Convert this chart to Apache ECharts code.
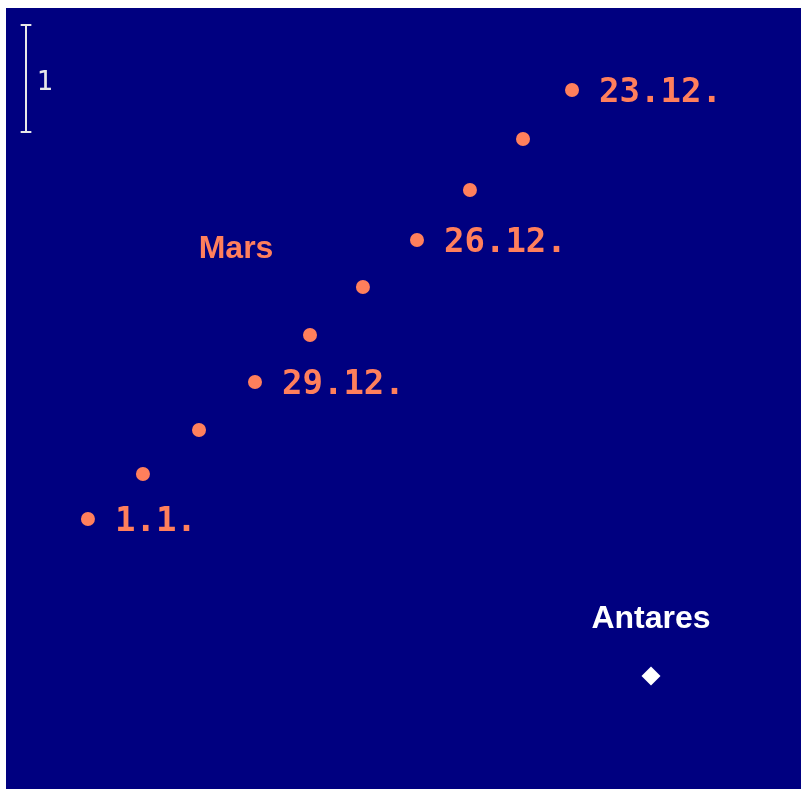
<!DOCTYPE html>
<html>
<head>
<meta charset="utf-8">
<script src="https://cdn.jsdelivr.net/npm/echarts@6/dist/echarts.min.js"></script>
<style>html,body{margin:0;padding:0;background:#fff}#c{width:801px;height:789px}</style>
</head>
<body>
<div id="c"></div>
<script>
// Units: 1 = length of the scale bar
const marsX = [0.766, 1.280, 1.804, 2.327, 2.841, 3.336, 3.841, 4.336, 4.832, 5.290];
const marsY = [2.523, 2.944, 3.355, 3.804, 4.243, 4.692, 5.131, 5.598, 6.075, 6.533];
const marsDates = ['1.1.', '', '', '29.12.', '', '', '26.12.', '', '', '23.12.'];
const marsName = 'Mars';
const marsNamePos = [2.150, 5.046];
const starName = 'Antares';
const starPos = [6.028, 1.056];
const starNamePos = [6.028, 1.588];
const scaleX = 0.187, scaleY0 = 6.140, scaleY1 = 7.140, scaleCap = 0.05;
const scaleLabel = '1';
const scaleLabelPos = [0.360, 6.600];

const coral = '#ff7f5c';
const chart = echarts.init(document.getElementById('c'));
chart.setOption({
  backgroundColor: '#ffffff',
  animation: false,
  grid: { left: 6, top: 8, right: 0, bottom: 0, show: true, backgroundColor: '#000080', borderWidth: 0 },
  xAxis: { type: 'value', min: 0, max: 795 / 107, show: false },
  yAxis: { type: 'value', min: 0, max: 781 / 107, show: false },
  series: [
    {
      type: 'scatter', symbol: 'circle', symbolSize: 14,
      itemStyle: { color: coral, opacity: 1 },
      data: marsX.map((x, i) => ({ value: [x, marsY[i]], label: { show: !!marsDates[i], formatter: marsDates[i] } })),
      label: { position: 'right', distance: 20, color: coral, opacity: 1, fontFamily: 'DejaVu Sans Mono', fontWeight: 'bold', fontSize: 34, offset: [0, 3] }
    },
    {
      type: 'scatter', symbol: 'circle', symbolSize: 0, silent: true,
      itemStyle: { opacity: 1 },
      data: [{ value: marsNamePos, label: { show: true, formatter: marsName, position: 'inside', color: coral, opacity: 1, fontFamily: 'Liberation Sans', fontWeight: 'bold', fontSize: 32 } }]
    },
    {
      type: 'scatter', symbol: 'diamond', symbolSize: 19,
      itemStyle: { color: '#ffffff', opacity: 1 },
      data: [starPos]
    },
    {
      type: 'scatter', symbol: 'circle', symbolSize: 0, silent: true,
      itemStyle: { opacity: 1 },
      data: [{ value: starNamePos, label: { show: true, formatter: starName, position: 'inside', color: '#ffffff', opacity: 1, fontFamily: 'Liberation Sans', fontWeight: 'bold', fontSize: 32 } }]
    },
    {
      type: 'lines', coordinateSystem: 'cartesian2d', silent: true,
      lineStyle: { color: '#e8e8e8', width: 2, opacity: 1 },
      data: [
        { coords: [[scaleX, scaleY0], [scaleX, scaleY1]] },
        { coords: [[scaleX - scaleCap, scaleY0], [scaleX + scaleCap, scaleY0]] },
        { coords: [[scaleX - scaleCap, scaleY1], [scaleX + scaleCap, scaleY1]] }
      ]
    },
    {
      type: 'scatter', symbol: 'circle', symbolSize: 0, silent: true,
      itemStyle: { opacity: 1 },
      data: [{ value: scaleLabelPos, label: { show: true, formatter: scaleLabel, position: 'inside', color: '#e8e8e8', opacity: 1, fontFamily: 'DejaVu Sans Mono', fontSize: 27 } }]
    }
  ]
});
</script>
</body>
</html>
